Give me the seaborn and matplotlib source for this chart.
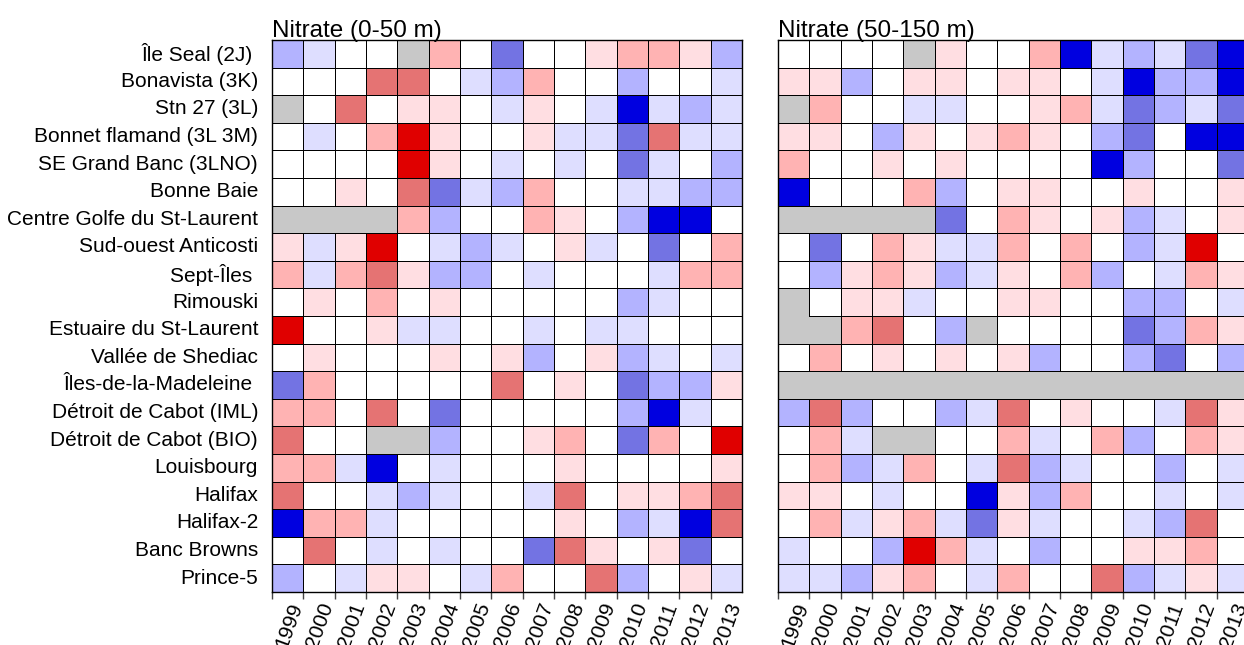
import numpy as np
import pandas as pd
import matplotlib
matplotlib.use("Agg")
import matplotlib.pyplot as plt
import matplotlib.transforms as mtransforms
from matplotlib.colors import ListedColormap
import seaborn as sns

n = np.nan

stations = ['Île Seal (2J) ', 'Bonavista (3K)', 'Stn 27 (3L)', 'Bonnet flamand (3L 3M)',
            'SE Grand Banc (3LNO)', 'Bonne Baie', 'Centre Golfe du St-Laurent',
            'Sud-ouest Anticosti', 'Sept-Îles ', 'Rimouski', 'Estuaire du St-Laurent',
            'Vallée de Shediac', 'Îles-de-la-Madeleine ', 'Détroit de Cabot (IML)',
            'Détroit de Cabot (BIO)', 'Louisbourg', 'Halifax', 'Halifax-2',
            'Banc Browns', 'Prince-5']
years = [str(y) for y in range(1999, 2014)]

# anomaly classes (-4 .. 4), nan = no data
nit_0_50 = [
    [-2, -1, 0, 0, n, 2, 0, -3, 0, 0, 1, 2, 2, 1, -2],
    [0, 0, 0, 3, 3, 0, -1, -2, 2, 0, 0, -2, 0, 0, -1],
    [n, 0, 3, 0, 1, 1, 0, -1, 1, 0, -1, -4, -1, -2, -1],
    [0, -1, 0, 2, 4, 1, 0, 0, 1, -1, -1, -3, 3, -1, -1],
    [0, 0, 0, 0, 4, 1, 0, -1, 0, -1, 0, -3, -1, 0, -2],
    [0, 0, 1, 0, 3, -3, -1, -2, 2, 0, 0, -1, -1, -2, -2],
    [n, n, n, n, 2, -2, 0, 0, 2, 1, 0, -2, -4, -4, 0],
    [1, -1, 1, 4, 0, -1, -2, -1, 0, 1, -1, 0, -3, 0, 2],
    [2, -1, 2, 3, 1, -2, -2, 0, -1, 0, 0, 0, -1, 2, 2],
    [0, 1, 0, 2, 0, 1, 0, 0, 0, 0, 0, -2, -1, 0, 0],
    [4, 0, 0, 1, -1, -1, 0, 0, -1, 0, -1, -1, 0, 0, 0],
    [0, 1, 0, 0, 0, 1, 0, 1, -2, 0, 1, -2, -1, 0, -1],
    [-3, 2, 0, 0, 0, 0, 0, 3, 0, 1, 0, -3, -2, -2, 1],
    [2, 2, 0, 3, 0, -3, 0, 0, 0, 0, 0, -2, -4, -1, 0],
    [3, 0, 0, n, n, -2, 0, 0, 1, 2, 0, -3, 2, 0, 4],
    [2, 2, -1, -4, 0, -1, 0, 0, 0, 1, 0, 0, 0, 0, 1],
    [3, 0, 0, -1, -2, -1, 0, 0, -1, 3, 0, 1, 1, 2, 3],
    [-4, 2, 2, -1, 0, 0, 0, 0, 0, 1, 0, -2, -1, -4, 3],
    [0, 3, 0, -1, 0, -1, 0, 0, -3, 3, 1, 0, 1, -3, 0],
    [-2, 0, -1, 1, 1, 0, -1, 2, 0, 0, 3, -2, 0, 1, -1],
]

nit_50_150 = [
    [0, 0, 0, 0, n, 1, 0, 0, 2, -4, -1, -2, -1, -3, -4],
    [1, 1, -2, 0, 1, 1, 0, 1, 1, 0, -1, -4, -2, -2, -4],
    [n, 2, 0, 0, -1, -1, 0, 0, 1, 2, -1, -3, -2, -1, -3],
    [1, 1, 0, -2, 1, 0, 1, 2, 1, 0, -2, -3, 0, -4, -4],
    [2, 0, 0, 1, 0, 1, 0, 0, 0, 0, -4, -2, 0, 0, -3],
    [-4, 0, 0, 0, 2, -2, 0, 1, 1, 0, 0, 1, 0, 0, 1],
    [n, n, n, n, n, -3, 0, 2, 1, 0, 1, -2, -1, 0, 1],
    [0, -3, 0, 2, 1, -1, -1, 2, 0, 2, 0, -2, -1, 4, 0],
    [0, -2, 1, 2, 1, -2, -1, 1, 0, 2, -2, 0, -1, 2, 1],
    [n, 0, 1, 1, -1, 0, 0, 1, 1, 0, 0, -2, -2, 0, -1],
    [n, n, 2, 3, 0, -2, n, 0, 0, 0, 0, -3, -2, 2, 1],
    [0, 2, 0, 1, 0, 1, 0, 1, -2, 0, 0, -2, -3, 0, -2],
    [n, n, n, n, n, n, n, n, n, n, n, n, n, n, n],
    [-2, 3, -2, 0, 0, -2, -1, 3, 0, 1, 0, 0, -1, 3, 1],
    [0, 2, -1, n, n, 0, 0, 2, -1, 0, 2, -2, 0, 2, 1],
    [0, 2, -2, -1, 2, 0, -1, 3, -2, -1, 0, 0, -2, 0, -1],
    [1, 1, 0, -1, 0, 0, -4, 1, -2, 2, 0, 0, -1, 0, -1],
    [0, 2, -1, 1, 2, -1, -3, 1, -1, 0, 0, -1, -2, 3, 0],
    [-1, 0, 0, -2, 4, 2, -1, 0, -2, 0, 0, 1, 1, 2, 0],
    [-1, -1, -2, 1, 2, 0, -1, 2, 0, 0, 3, -2, -1, 1, -1],
]

titles = ['Nitrate (0-50 m)', 'Nitrate (50-150 m)']

colors = ['#0000e0', '#7373e3', '#b3b3ff', '#dedeff', '#ffffff',
          '#ffdee2', '#ffb3b3', '#e57373', '#e00000']
cmap = ListedColormap(colors)

sns.set_style('white')
plt.rcParams['font.family'] = ['Liberation Sans', 'DejaVu Sans']
plt.rcParams['text.color'] = 'black'
plt.rcParams['xtick.color'] = 'black'
plt.rcParams['ytick.color'] = 'black'

W, H = 1244, 645
fig = plt.figure(figsize=(W / 100, H / 100), dpi=100)
lefts = [272, 778]
shift = mtransforms.ScaledTranslation(-6 / 100, 0, fig.dpi_scale_trans)
for k, (data, title) in enumerate(zip([nit_0_50, nit_50_150], titles)):
    ax = fig.add_axes([lefts[k] / W, (H - 592) / H, 470 / W, 552 / H])
    ax.set_facecolor('#c8c8c8')
    df = pd.DataFrame(data, index=stations, columns=years)
    sns.heatmap(df, ax=ax, cmap=cmap, vmin=-4.5, vmax=4.5, cbar=False,
                linewidths=0.6, linecolor='black')
    # no cell borders inside the missing-data blocks
    mesh = ax.collections[0]
    ec = np.zeros((df.size, 4))
    ec[:, 3] = 1.0
    ec[np.isnan(df.values).ravel(), 3] = 0.0
    mesh.set_edgecolor(ec)
    for sp in ax.spines.values():
        sp.set_visible(True)
        sp.set_color('black')
        sp.set_linewidth(1)
    ax.set_xticks(np.arange(len(years)))
    ax.set_xticklabels(years, rotation=70, ha='left', fontsize=15)
    for lab in ax.get_xticklabels():
        lab.set_transform(lab.get_transform() + shift)
    ax.tick_params(axis='x', length=5, width=1, color='#444444', pad=1, bottom=True)
    if k == 0:
        ax.set_yticks(np.arange(len(stations)) + 0.5)
        ax.set_yticklabels(stations, rotation=0, fontsize=15)
        ax.tick_params(axis='y', length=0, pad=10)
    else:
        ax.set_yticks([])
    ax.set_xlabel('')
    ax.set_ylabel('')
    ax.set_title(title, loc='left', fontsize=17.5, pad=2)

fig.savefig('out.png', dpi=100)
